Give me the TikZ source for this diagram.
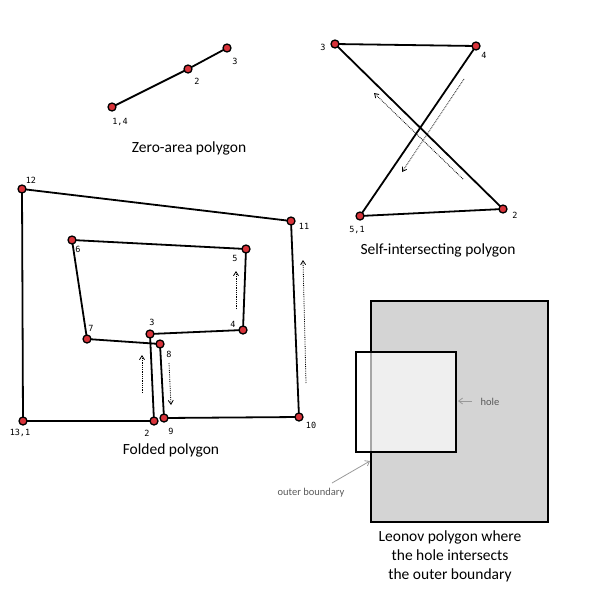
\documentclass[tikz,border=0pt]{standalone}
\usepackage{fontspec}
\setmainfont{Carlito}
\newfontfamily\lblfont{DejaVu Sans Mono}
\usetikzlibrary{backgrounds,arrows.meta}
\definecolor{dotred}{HTML}{D8333A}
\definecolor{fillgray}{HTML}{D4D4D4}
\tikzset{
  vtx/.style={circle,draw=black,fill=dotred,line width=1.3pt,inner sep=0pt,minimum size=8pt},
  polyedge/.style={line width=1.8pt,black},
  lbl/.style={font=\lblfont\fontsize{8.5}{9}\selectfont,inner sep=0pt},
  captxt/.style={font=\fontsize{15.5}{19}\selectfont,inner sep=0pt,align=center},
  dirarrow/.style={densely dotted,line width=0.8pt,-{Straight Barb[length=4pt,width=5pt]}},
  notetxt/.style={font=\fontsize{10.5}{12}\selectfont,text=black!65,inner sep=0pt},
  notearrow/.style={draw=black!40,line width=0.8pt,-{Straight Barb[length=4pt,width=6pt]}}
}
\begin{document}
\begin{tikzpicture}[x=1pt,y=-1pt]
\useasboundingbox (0,0) rectangle (600,600);
% Zero-area polygon
\node[vtx] (z1) at (112,107) {};
\node[vtx] (z2) at (188,69) {};
\node[vtx] (z3) at (227,48) {};
\node[lbl] at (120,122) {1,4};
\node[lbl] at (197,81) {2};
\node[lbl] at (235,61) {3};
\node[captxt] at (189,148) {Zero-area polygon};
% Self-intersecting
\node[vtx] (s3) at (335,44) {};
\node[vtx] (s4) at (476,46) {};
\node[vtx] (s2) at (503,209) {};
\node[vtx] (s1) at (360,216) {};
\node[lbl] at (323,47) {3};
\node[lbl] at (484,55) {4};
\node[lbl] at (515,215) {2};
\node[lbl] at (357,230) {5,1};
\node[captxt] at (438,250) {Self-intersecting polygon};
\coordinate (sa1) at (463,179); \coordinate (sa2) at (374,93);
\coordinate (sb1) at (464,79); \coordinate (sb2) at (402,172);
\draw[dirarrow] (sa1) -- (sa2);
\draw[dirarrow] (sb1) -- (sb2);
% Folded
\node[vtx] (f1) at (23,421) {};
\node[vtx] (f2) at (154,421) {};
\node[vtx] (f3) at (150,334) {};
\node[vtx] (f4) at (243,330) {};
\node[vtx] (f5) at (246,249) {};
\node[vtx] (f6) at (72,240) {};
\node[vtx] (f7) at (87,339) {};
\node[vtx] (f8) at (160,344) {};
\node[vtx] (f9) at (164,418) {};
\node[vtx] (f10) at (299,417) {};
\node[vtx] (f11) at (291,221) {};
\node[vtx] (f12) at (22,189) {};
\node[lbl] at (31,180) {12};
\node[lbl] at (304,226) {11};
\node[lbl] at (78,249) {6};
\node[lbl] at (235,258) {5};
\node[lbl] at (91,328) {7};
\node[lbl] at (152,322) {3};
\node[lbl] at (233,324) {4};
\node[lbl] at (169,354) {8};
\node[lbl] at (20,433) {13,1};
\node[lbl] at (147,433) {2};
\node[lbl] at (171,431) {9};
\node[lbl] at (311,425) {10};
\node[captxt] at (171,450) {Folded polygon};
\coordinate (fa1) at (142,393); \coordinate (fa2) at (142,355);
\coordinate (fb1) at (169,363); \coordinate (fb2) at (171,405);
\coordinate (fc1) at (236,309); \coordinate (fc2) at (236,271);
\coordinate (fd1) at (306,383); \coordinate (fd2) at (303,260);
\draw[dirarrow] (fa1) -- (fa2);
\draw[dirarrow] (fb1) -- (fb2);
\draw[dirarrow] (fc1) -- (fc2);
\draw[dirarrow] (fd1) -- (fd2);
\begin{pgfonlayer}{background}
\draw[polyedge] (z1.center) -- (z2.center) -- (z3.center);
\draw[polyedge] (s1.center) -- (s2.center) -- (s3.center) -- (s4.center) -- cycle;
\draw[polyedge,line join=round] (f1.center) -- (f2.center) -- (f3.center) -- (f4.center) -- (f5.center) -- (f6.center) -- (f7.center) -- (f8.center) -- (f9.center) -- (f10.center) -- (f11.center) -- (f12.center) -- cycle;
\end{pgfonlayer}
% Leonov
\draw[fill=fillgray,line width=1.8pt] (371,301) rectangle (548,522);
\fill[white,opacity=0.65] (356,352) rectangle (456,452);
\draw[line width=1.5pt] (356,352) rectangle (456,452);
\coordinate (holeedge) at (458,401);
\coordinate (outeredge) at (370,461);
\node[notetxt] (holetxt) at (490,402) {hole};
\node[notetxt] (outertxt) at (311,493) {outer boundary};
\coordinate (holestart) at (472,401);
\coordinate (outerstart) at (332,483);
\draw[notearrow] (holestart) -- (holeedge);
\draw[notearrow] (outerstart) -- (outeredge);
\node[captxt] at (450,556) {Leonov polygon where\\the hole intersects\\the outer boundary};
\end{tikzpicture}
\end{document}
